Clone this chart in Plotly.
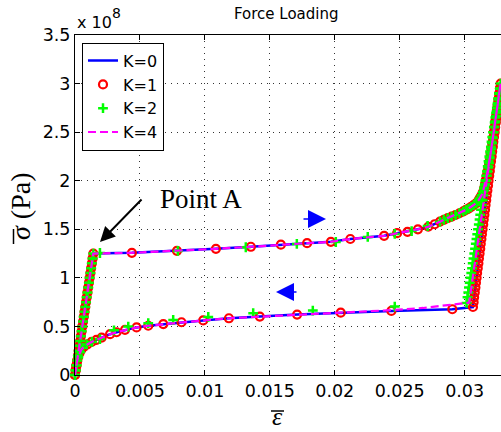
import plotly.graph_objects as go

# ---------------- data (strain [-], stress in units of 1e8 Pa) ----------------
# elastic loading branch, origin -> Point A (shared by all K)
el_x = [0, 0.000056, 0.000113, 0.000169, 0.000226, 0.000282, 0.000338, 0.000395, 0.000451,
        0.000508, 0.000564, 0.00062, 0.000677, 0.000733, 0.00079, 0.000846, 0.000902, 0.000959,
        0.001015, 0.001072, 0.001128, 0.001184, 0.001241, 0.001297, 0.001354, 0.00141]
el_s = [0, 0.05, 0.10, 0.15, 0.20, 0.25, 0.30, 0.35, 0.40, 0.45, 0.50, 0.55, 0.60, 0.65, 0.70,
        0.75, 0.80, 0.85, 0.90, 0.95, 1.00, 1.05, 1.10, 1.15, 1.20, 1.25]

# hardening end of loading branch up to the peak (shared)
top_x = [0.0281, 0.0284, 0.0287, 0.029, 0.0293, 0.0296, 0.0299, 0.0301, 0.0303, 0.0305, 0.0307,
         0.0309, 0.0311, 0.0312, 0.0313, 0.0314, 0.0315, 0.03157, 0.03163, 0.0317, 0.03176,
         0.03182, 0.03188, 0.03194, 0.032, 0.03206, 0.03212, 0.03218, 0.03224, 0.0323, 0.03236,
         0.03242, 0.03248, 0.03254, 0.0326, 0.03266, 0.03272, 0.03277]
top_s = [1.578, 1.598, 1.615, 1.63, 1.647, 1.665, 1.685, 1.70, 1.713, 1.73, 1.75, 1.77, 1.805,
         1.825, 1.85, 1.88, 1.925, 1.965, 2.005, 2.05, 2.09, 2.135, 2.18, 2.23, 2.28, 2.33, 2.385,
         2.44, 2.50, 2.555, 2.61, 2.665, 2.72, 2.78, 2.835, 2.895, 2.95, 3.0]

# stress levels of the elastic unloading branch
unl_s = [2.95, 2.90, 2.85, 2.80, 2.75, 2.70, 2.65, 2.60, 2.55, 2.50, 2.45, 2.40, 2.35, 2.30,
         2.25, 2.20, 2.15, 2.10, 2.05, 2.00, 1.95, 1.90, 1.85, 1.80, 1.75, 1.70, 1.65, 1.60,
         1.55, 1.50, 1.45, 1.40, 1.35, 1.30, 1.25, 1.20, 1.15, 1.10, 1.05, 1.00, 0.95, 0.90,
         0.85, 0.80, 0.75, 0.70]

# K = 1
k1_plat_x = [0.00438, 0.00785, 0.01085, 0.01354, 0.01585, 0.01787, 0.0197, 0.0212, 0.0238,
             0.0248, 0.0256, 0.0264, 0.0272, 0.0277]
k1_plat_s = [1.258, 1.278, 1.299, 1.32, 1.342, 1.357, 1.371, 1.40, 1.433, 1.46, 1.474, 1.50,
             1.526, 1.552]
k1_unl_x = [0.03272, 0.03268, 0.03263, 0.03258, 0.03254, 0.03249, 0.03245, 0.03240, 0.03235,
            0.03231, 0.03226, 0.03221, 0.03217, 0.03212, 0.03208, 0.03203, 0.03198, 0.03194,
            0.03189, 0.03184, 0.03180, 0.03175, 0.03170, 0.03166, 0.03161, 0.03157, 0.03152,
            0.03147, 0.03143, 0.03138, 0.03133, 0.03129, 0.03124, 0.03120, 0.03115, 0.03110,
            0.03106, 0.03101, 0.03096, 0.03092, 0.03087, 0.03083, 0.03078, 0.03073, 0.03069,
            0.03064]
k1_low_x = [0.02905, 0.02436, 0.02046, 0.0171, 0.01423, 0.01185, 0.00987, 0.0082, 0.0068,
            0.00564, 0.00474, 0.00385, 0.0032, 0.0027, 0.00205, 0.00165, 0.00128, 0.00095,
            0.00068, 0.00048, 0.00034, 0.00024, 0.00016, 0.0001, 0.00005, 0]
k1_low_s = [0.677, 0.66, 0.642, 0.622, 0.601, 0.584, 0.562, 0.543, 0.524, 0.507, 0.49, 0.465,
            0.44, 0.42, 0.385, 0.362, 0.34, 0.315, 0.29, 0.26, 0.225, 0.185, 0.14, 0.095, 0.05, 0]

# K = 2
k2_plat_x = [0.00192, 0.00792, 0.01315, 0.01708, 0.02008, 0.02254, 0.02462, 0.02592, 0.02715]
k2_plat_s = [1.256, 1.277, 1.315, 1.349, 1.369, 1.421, 1.452, 1.482, 1.534]
k2_unl_x = [0.03271, 0.03265, 0.03260, 0.03254, 0.03248, 0.03242, 0.03236, 0.03231, 0.03225,
            0.03219, 0.03213, 0.03207, 0.03202, 0.03196, 0.03190, 0.03184, 0.03178, 0.03173,
            0.03167, 0.03161, 0.03155, 0.03149, 0.03144, 0.03138, 0.03132, 0.03126, 0.03120,
            0.03115, 0.03109, 0.03103, 0.03097, 0.03091, 0.03086, 0.03080, 0.03074, 0.03068,
            0.03062, 0.03057, 0.03051, 0.03045, 0.03039, 0.03033, 0.03028, 0.03022, 0.03015]
k2_unl_s = [2.95, 2.90, 2.85, 2.80, 2.75, 2.70, 2.65, 2.60, 2.55, 2.50, 2.45, 2.40, 2.35, 2.30,
            2.25, 2.20, 2.15, 2.10, 2.05, 2.00, 1.95, 1.90, 1.85, 1.80, 1.75, 1.70, 1.65, 1.60,
            1.55, 1.50, 1.45, 1.40, 1.35, 1.30, 1.25, 1.20, 1.15, 1.10, 1.05, 1.00, 0.95, 0.90,
            0.85, 0.80, 0.742]
k2_low_x = [0.02462, 0.01831, 0.01372, 0.01026, 0.00756, 0.00564, 0.0041, 0.003, 0.00192,
            0.0013, 0.0009, 0.0006, 0.0004, 0.00025, 0.00012, 0.00005, 0]
k2_low_s = [0.704, 0.663, 0.636, 0.598, 0.567, 0.533, 0.498, 0.46, 0.37, 0.34, 0.315, 0.28,
            0.235, 0.18, 0.10, 0.05, 0]

# K = 0 and K = 4 (lines)
k4_unl_x = [0.03035, 0.0268, 0.0244]
k4_unl_s = [0.745, 0.69, 0.668]

k0_x = el_x + k1_plat_x + top_x + [0.03064] + k1_low_x
k0_s = el_s + k1_plat_s + top_s + [0.70] + k1_low_s
k4_x = el_x + k1_plat_x + top_x + k4_unl_x + k1_low_x[2:]
k4_s = el_s + k1_plat_s + top_s + k4_unl_s + k1_low_s[2:]
k1_x = el_x + k1_plat_x + top_x + k1_unl_x + k1_low_x
k1_s = el_s + k1_plat_s + top_s + unl_s + k1_low_s
k2_x = el_x + k2_plat_x + top_x + k2_unl_x + k2_low_x
k2_s = el_s + k2_plat_s + top_s + k2_unl_s + k2_low_s

x_ticks = [0, 0.005, 0.01, 0.015, 0.02, 0.025, 0.03]
y_ticks = [0, 0.5, 1, 1.5, 2, 2.5, 3, 3.5]
X_MAX, Y_MAX = 0.0328, 3.5

# ---------------- figure ----------------
W, H = 501, 432
SX0, SX1, SY0, SY1 = 75, 501, 35, 375          # plot area in pixels
L, T, R, B = SX0, SY0, W - SX1, H - SY1
PW, PH = SX1 - SX0, SY1 - SY0


def px(xs):
    return (xs - SX0) / PW


def py(ys):
    return (SY1 - ys) / PH


def dx(xs):
    return px(xs) * X_MAX


def dy(ys):
    return py(ys) * Y_MAX


fig = go.Figure()
fig.add_trace(go.Scatter(x=k0_x, y=k0_s, mode="lines", name="K=0", legendgroup="a",
                         line=dict(color="#0000ff", width=2.5)))
fig.add_trace(go.Scatter(x=k1_x, y=k1_s, mode="markers", name="K=1", legendgroup="b",
                         cliponaxis=False,
                         marker=dict(symbol="circle-open", size=8, color="#ff0000",
                                     line=dict(width=2.2, color="#ff0000"))))
fig.add_trace(go.Scatter(x=k2_x, y=k2_s, mode="markers", name="K=2", legendgroup="c",
                         cliponaxis=False,
                         marker=dict(symbol="cross-thin", size=7, color="#00ff00",
                                     line=dict(width=2.5, color="#00ff00"))))
fig.add_trace(go.Scatter(x=k4_x, y=k4_s, mode="lines", name="K=4", legendgroup="d",
                         line=dict(color="#ff00ff", width=2.2, dash="8px,4px")))

grid = dict(showgrid=True, gridcolor="#333333", gridwidth=1, griddash="1px,5px")
tick_font = dict(family="DejaVu Sans", size=17.5, color="black")
fig.update_xaxes(range=[0, X_MAX], tickvals=x_ticks, ticktext=[f"{v:g}" for v in x_ticks],
                 showline=True, linecolor="black", linewidth=1, mirror="ticks",
                 ticks="inside", ticklen=5, tickcolor="black", zeroline=False,
                 tickfont=tick_font, **grid)
fig.update_yaxes(range=[0, Y_MAX], tickvals=y_ticks, ticktext=[f"{v:g}" for v in y_ticks],
                 showline=True, linecolor="black", linewidth=1, mirror=False,
                 ticks="inside", ticklen=5, tickcolor="black", zeroline=False,
                 tickfont=tick_font, **grid)


def label(xs, ys, text, size, family="DejaVu Sans", xanchor="center", angle=0):
    return dict(x=px(xs), y=py(ys), xref="paper", yref="paper", text=text, showarrow=False,
                xanchor=xanchor, yanchor="middle", textangle=angle, borderpad=0,
                font=dict(family=family, size=size, color="black"))


annos = [
    label(286, 14, "Force Loading", 15),
    label(76, 23, "x 10", 16, xanchor="left"),
    label(116, 13, "8", 14),
    label(20, 207, "<i>σ</i> (Pa)", 28, family="Liberation Serif", angle=-90),
    label(277.5, 416.5, "<i>ε</i>", 26, family="Liberation Serif"),
    label(200.5, 199, "Point A", 27, family="Liberation Serif"),
    # arrows
    dict(x=dx(100), y=dy(242), text="", showarrow=True, ax=43, ay=-44,
         arrowhead=2, arrowsize=1.5, arrowwidth=2, arrowcolor="black"),
    dict(x=dx(326), y=dy(219), text="", showarrow=True, ax=-24, ay=0,
         arrowhead=2, arrowsize=2.4, arrowwidth=1.5, arrowcolor="#0000ff"),
    dict(x=dx(276), y=dy(292), text="", showarrow=True, ax=22, ay=0,
         arrowhead=2, arrowsize=2.4, arrowwidth=1.5, arrowcolor="#0000ff"),
]

# bars over sigma and epsilon
shapes = [
    dict(type="line", xref="paper", yref="paper", x0=px(13.5), x1=px(13.5),
         y0=py(229), y1=py(244), line=dict(color="black", width=1.5)),
    dict(type="line", xref="paper", yref="paper", x0=px(271), x1=px(284),
         y0=py(411), y1=py(411), line=dict(color="black", width=1.5)),
]

fig.update_layout(
    width=W, height=H, margin=dict(l=L, r=R, t=T, b=B, pad=0),
    plot_bgcolor="white", paper_bgcolor="white",
    annotations=annos, shapes=shapes,
    showlegend=True,
    legend=dict(x=px(82), y=py(42.7), xanchor="left", yanchor="top",
                bordercolor="black", borderwidth=1, bgcolor="white",
                font=dict(family="DejaVu Sans", size=16, color="black"),
                tracegroupgap=4, traceorder="normal"),
)

# drop the page's default body margin so the figure sits at the window's top-left corner
fig.write_html("out.html", config={"displayModeBar": False},
               post_script="document.body.style.margin='0px';"
                           "document.body.style.overflow='hidden';")
